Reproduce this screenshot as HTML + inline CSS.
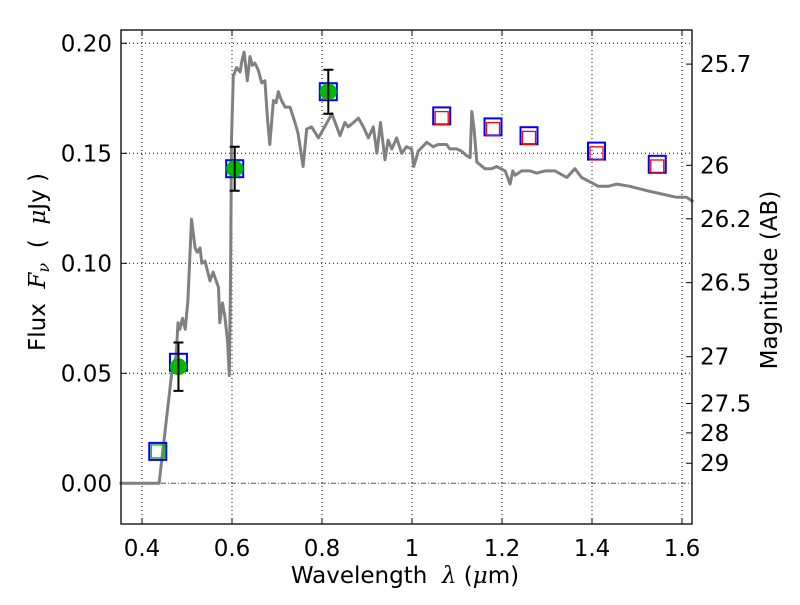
<!DOCTYPE html>
<html><head><meta charset="utf-8"><style>
body{margin:0;background:#fff;}
svg text{font-family:"DejaVu Sans","Liberation Sans",sans-serif;white-space:pre;}
</style></head><body>
<svg id="chart" width="800" height="600" xmlns="http://www.w3.org/2000/svg"></svg>
<script>
const xTicks=[0.4,0.6,0.8,1.0,1.2,1.4,1.6];
const xTickLabels=["0.4","0.6","0.8","1","1.2","1.4","1.6"];
const yTicks=[0,0.05,0.10,0.15,0.20];
const yTickLabels=["0.00","0.05","0.10","0.15","0.20"];
const magTicks=[25.7,26,26.2,26.5,27,27.5,28,29];
const magTickLabels=["25.7","26","26.2","26.5","27","27.5","28","29"];
const specWl=[0.35,0.438,0.467,0.476,0.480,0.484,0.490,0.496,0.502,0.510,0.518,0.523,0.529,0.533,0.540,0.551,0.558,0.570,0.573,0.579,0.584,0.590,0.594,0.597,0.599,0.603,0.610,0.618,0.622,0.627,0.634,0.640,0.645,0.651,0.658,0.666,0.673,0.679,0.684,0.692,0.698,0.703,0.710,0.718,0.729,0.740,0.747,0.758,0.766,0.777,0.792,0.803,0.814,0.822,0.833,0.840,0.851,0.858,0.870,0.881,0.892,0.903,0.914,0.922,0.930,0.940,0.947,0.955,0.966,0.977,0.988,0.999,1.004,1.014,1.033,1.047,1.058,1.077,1.084,1.099,1.110,1.121,1.129,1.133,1.138,1.144,1.162,1.177,1.188,1.207,1.218,1.224,1.229,1.244,1.262,1.277,1.296,1.318,1.344,1.362,1.377,1.396,1.414,1.436,1.455,1.484,1.522,1.544,1.566,1.588,1.610,1.625];
const specFlux=[0,0,0.052,0.058,0.073,0.070,0.075,0.070,0.083,0.120,0.107,0.105,0.107,0.100,0.101,0.092,0.096,0.089,0.073,0.082,0.076,0.065,0.049,0.096,0.156,0.185,0.189,0.187,0.192,0.196,0.183,0.194,0.190,0.191,0.188,0.182,0.183,0.165,0.154,0.174,0.173,0.178,0.174,0.171,0.171,0.164,0.159,0.144,0.161,0.162,0.157,0.161,0.165,0.168,0.162,0.158,0.164,0.162,0.164,0.166,0.162,0.157,0.162,0.150,0.164,0.147,0.156,0.152,0.157,0.150,0.153,0.152,0.144,0.151,0.155,0.153,0.154,0.154,0.152,0.152,0.151,0.149,0.148,0.169,0.161,0.146,0.143,0.143,0.144,0.142,0.136,0.142,0.140,0.142,0.142,0.141,0.142,0.142,0.139,0.143,0.139,0.137,0.135,0.135,0.136,0.135,0.133,0.132,0.131,0.130,0.130,0.128];
const modelWl=[0.435,0.481,0.606,0.814,1.066,1.180,1.260,1.410,1.545];
const modelFlux=[0.0145,0.055,0.143,0.178,0.167,0.162,0.158,0.151,0.145];
const ulWl=[1.066,1.180,1.260,1.410,1.545];
const ulFlux=[0.166,0.161,0.157,0.150,0.144];
const nondetWl=[0.435];
const nondetFlux=[0.0145];
const obsWl=[0.481,0.606,0.814];
const obsFlux=[0.053,0.143,0.178];
const obsErr=[0.011,0.010,0.010];

const L=121,R=692,T=30,B=524;
const X=v=>142+(v-0.4)*450;
const Y=v=>483.3-v*2200;
const svg=document.getElementById('chart');
const NS='http://www.w3.org/2000/svg';
function mk(tag,attrs,parent){const e=document.createElementNS(NS,tag);for(const k in attrs)e.setAttribute(k,attrs[k]);(parent||svg).appendChild(e);return e;}

xTicks.forEach((t,i)=>{
 const g=mk('line',{x1:X(t),x2:X(t),y1:T,y2:B,stroke:'#000','stroke-width':1,'stroke-dasharray':'1,3'});
 
 
 const tk=mk('line',{x1:X(t),x2:X(t),y1:B,y2:B-6,stroke:'#000','stroke-width':1});
 
 
 mk('line',{x1:X(t),x2:X(t),y1:T,y2:T+6,stroke:'#000','stroke-width':1});
 const tx=mk('text',{x:X(t),y:556,'font-size':23,'text-anchor':'middle'});
 tx.textContent=xTickLabels[i];
 
 
});
yTicks.forEach((t,i)=>{
 if(t!==0){const g=mk('line',{x1:L,x2:R,y1:Y(t),y2:Y(t),stroke:'#000','stroke-width':1,'stroke-dasharray':'1,3'});
 
 }
 const tk=mk('line',{x1:L,x2:L+6,y1:Y(t),y2:Y(t),stroke:'#000','stroke-width':1});
 
 
 const tx=mk('text',{x:112,y:Y(t)+8,'font-size':23,'text-anchor':'end'});
 tx.textContent=yTickLabels[i];
 
 
});
const zl=mk('line',{x1:L,x2:R,y1:Y(0),y2:Y(0),stroke:'#555','stroke-width':1,'stroke-dasharray':'5,2,1,2'});



magTicks.forEach((m,i)=>{
 const f=Math.pow(10,(23.9-m)/2.5);
 const tk=mk('line',{x1:R,x2:R-6,y1:Y(f),y2:Y(f),stroke:'#000','stroke-width':1});
 
 
 const tx=mk('text',{x:700,y:Y(f)+8,'font-size':23});
 tx.textContent=magTickLabels[i];
 
 
});

const pts=specWl.map((w,i)=>X(w).toFixed(1)+','+Y(specFlux[i]).toFixed(1)).join(' ');
const sp=mk('polyline',{points:pts,fill:'none',stroke:'#808080','stroke-width':3,'stroke-linejoin':'round'});



modelWl.forEach((w,i)=>{
 const r=mk('rect',{x:X(w)-8.5,y:Y(modelFlux[i])-8.5,width:17,height:17,fill:'none',stroke:'#0000ff','stroke-width':2});
 
 
});
ulWl.forEach((w,i)=>{
 const r=mk('rect',{x:X(w)-6.5,y:Y(ulFlux[i])-6.5,width:13,height:13,fill:'none',stroke:'#ff0000','stroke-width':1.3});
 
 
});
nondetWl.forEach((w,i)=>{
 const r=mk('rect',{x:X(w)-6.5,y:Y(nondetFlux[i])-6.5,width:13,height:13,fill:'none',stroke:'#00bb00','stroke-width':1.3});
 
 
});
obsWl.forEach((w,i)=>{
 const x=X(w),y1=Y(obsFlux[i]+obsErr[i]),y2=Y(obsFlux[i]-obsErr[i]);
 const c=mk('circle',{cx:x,cy:Y(obsFlux[i]),r:8.5,fill:'#00bb00'});
 
 
 const e=mk('path',{d:`M${x},${y1}V${y2}M${x-5},${y1}H${x+5}M${x-5},${y2}H${x+5}`,stroke:'#000','stroke-width':2,fill:'none'});
 
 
});

const fr=mk('rect',{x:L,y:T,width:R-L,height:B-T,fill:'none',stroke:'#000','stroke-width':1.3});


</script>
<svg style="position:absolute;left:0;top:0" width="800" height="600" xmlns="http://www.w3.org/2000/svg">
<text x="405" y="583" font-size="23" text-anchor="middle">Wavelength  <tspan font-family="DejaVu Serif, Liberation Serif, serif" font-style="italic">λ</tspan> (<tspan font-style="italic" font-family="DejaVu Serif, Liberation Serif, serif">μ</tspan>m)</text>
<text transform="translate(45,262) rotate(-90)" font-size="23" text-anchor="middle">Flux  <tspan font-family="DejaVu Serif, Liberation Serif, serif" font-style="italic">F</tspan><tspan font-family="DejaVu Serif, Liberation Serif, serif" font-style="italic" font-size="16" dy="4">ν</tspan><tspan dy="-4">  (  </tspan><tspan font-family="DejaVu Serif, Liberation Serif, serif" font-style="italic">μ</tspan>Jy )</text>
<text transform="translate(777,280) rotate(-90)" font-size="23" text-anchor="middle">Magnitude (AB)</text>
</svg>
</body></html>
